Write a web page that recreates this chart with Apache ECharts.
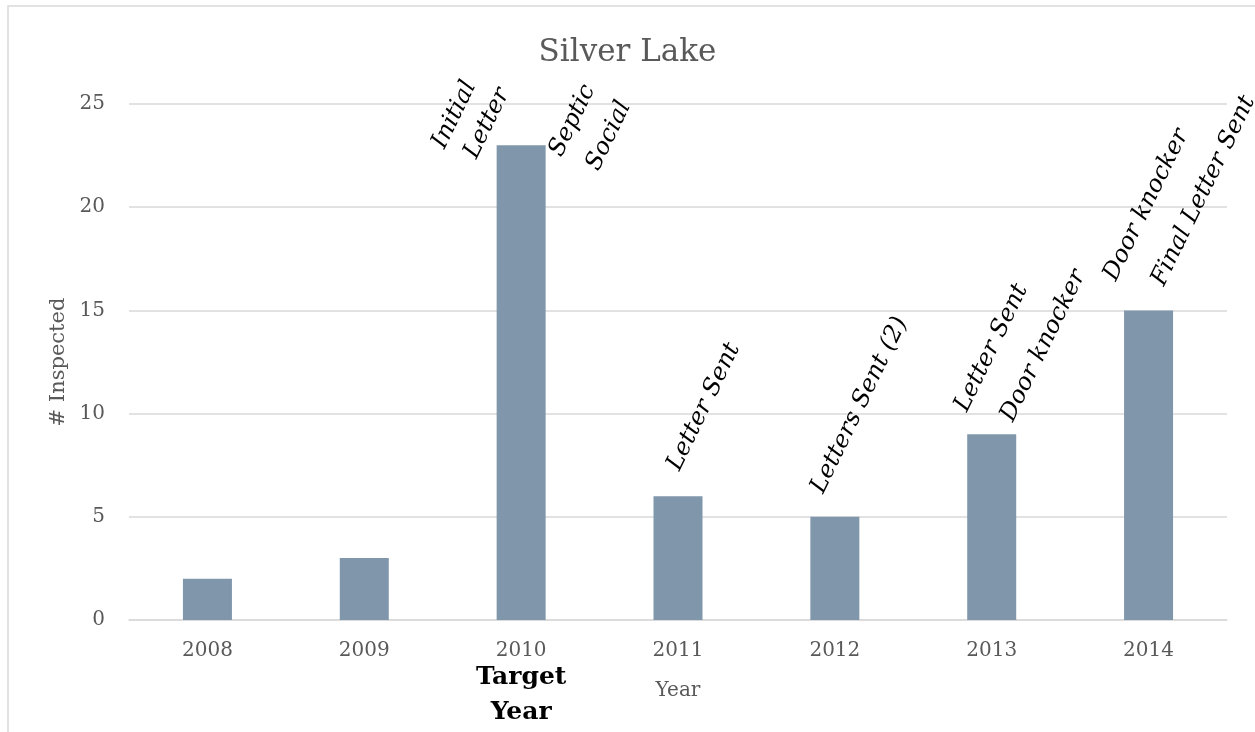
<!DOCTYPE html>
<html>
<head>
<meta charset="utf-8">
<script src="https://cdn.jsdelivr.net/npm/echarts@6/dist/echarts.min.js"></script>
<style>
  html, body { margin: 0; padding: 0; background: #fff; }
  #chart { width: 1255px; height: 732px; }
</style>
</head>
<body>
<div id="chart"></div>
<script>
// 数据
var years = ['2008', '2009', '2010', '2011', '2012', '2013', '2014'];
var inspected = [2, 3, 23, 6, 5, 9, 15];
var targetYear = '2010';
// 注释：年份 + 文字（每行一条）
var noteYears = ['2010', '2010', '2010', '2010', '2011', '2012', '2013', '2013', '2014', '2014'];
var noteTexts = ['Initial', 'Letter', 'Septic', 'Social', 'Letter Sent', 'Letters Sent (2)',
    'Letter Sent', 'Door knocker', 'Door knocker', 'Final Letter Sent'];

var FONT = 'DejaVu Serif';
var GREY = '#595959';
var NOTE_ROTATE = 64;
var NOTE_SIZE = 24;
// 注释相对柱顶的屏幕偏移（基线起点）
var noteShift = [[-76, 5], [-44, 15], [41, 13], [78, 27], [2, -24], [-11, -22],
    [-24, -21], [22, -11], [-32, -28], [16, -23]];

// 屏幕偏移 -> 旋转后文字坐标系里的偏移
function toLocal(dx, dy) {
    var r = NOTE_ROTATE * Math.PI / 180;
    var c = Math.cos(r), s = Math.sin(r);
    var a = dx * c - dy * s;
    var b = dx * s + dy * c;
    return [a, b - 0.3 * NOTE_SIZE];
}

var notePoints = [];
for (var i = 0; i < noteTexts.length; i++) {
    var idx = years.indexOf(noteYears[i]);
    notePoints.push({
        coord: [noteYears[i], inspected[idx]],
        label: {
            formatter: noteTexts[i],
            offset: toLocal(noteShift[i][0], noteShift[i][1])
        }
    });
}

var myChart = echarts.init(document.getElementById('chart'));
var option = {
    animation: false,
    backgroundColor: '#fff',
    title: {
        text: 'Silver Lake',
        left: 'center',
        top: 32,
        textStyle: {
            fontFamily: FONT,
            fontSize: 31,
            fontWeight: 'normal',
            color: GREY
        }
    },
    graphic: [
        {
            type: 'rect',
            shape: { x: 8, y: 6, width: 1300, height: 800 },
            style: { fill: 'none', stroke: '#d9d9d9', lineWidth: 1.5 },
            silent: true
        }
    ],
    grid: {
        left: 129,
        right: 28,
        top: 104,
        bottom: 112,
        outerBoundsMode: 'none'
    },
    xAxis: {
        type: 'category',
        data: years,
        name: 'Year',
        nameLocation: 'middle',
        nameGap: 61,
        nameMoveOverlap: false,
        nameTextStyle: { fontFamily: FONT, fontSize: 20, color: GREY },
        axisTick: { show: false },
        axisLine: { lineStyle: { color: '#d9d9d9', width: 1.5 } },
        axisLabel: {
            interval: 0,
            margin: 19,
            fontFamily: FONT,
            fontSize: 20,
            lineHeight: 24,
            color: GREY,
            formatter: function (v) {
                return v === targetYear ? v + '\n{t|Target}\n{y|Year}' : v;
            },
            rich: {
                t: { fontFamily: FONT, fontSize: 25, fontWeight: 'bold', color: '#000', lineHeight: 29 },
                y: { fontFamily: FONT, fontSize: 25, fontWeight: 'bold', color: '#000', lineHeight: 40 }
            }
        }
    },
    yAxis: {
        type: 'value',
        min: 0,
        max: 25,
        interval: 5,
        name: '# Inspected',
        nameLocation: 'middle',
        nameGap: 60,
        nameMoveOverlap: false,
        nameTextStyle: { fontFamily: FONT, fontSize: 21, color: GREY },
        axisLine: { show: false },
        axisTick: { show: false },
        axisLabel: { margin: 24, fontFamily: FONT, fontSize: 20, color: GREY },
        splitLine: { lineStyle: { color: '#d9d9d9', width: 1.5 } }
    },
    series: [
        {
            type: 'bar',
            data: inspected,
            barWidth: 49,
            itemStyle: { color: '#7f96ab' },
            markPoint: {
                symbol: 'circle',
                symbolSize: 0,
                silent: true,
                label: {
                    show: true,
                    position: 'inside',
                    rotate: NOTE_ROTATE,
                    align: 'left',
                    verticalAlign: 'middle',
                    fontFamily: FONT,
                    fontStyle: 'italic',
                    fontSize: NOTE_SIZE,
                    color: '#000'
                },
                data: notePoints
            }
        }
    ]
};
myChart.setOption(option);
</script>
</body>
</html>
